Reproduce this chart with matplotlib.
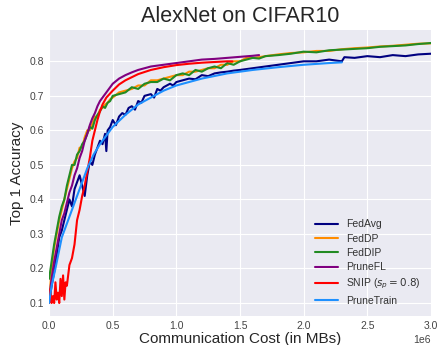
import numpy as np
import matplotlib
matplotlib.use("Agg")
import matplotlib.pyplot as plt

# communication cost in millions of MBs, top-1 accuracy
fedavg_x = [0.00, 0.02, 0.04, 0.06, 0.08, 0.10, 0.12, 0.14, 0.16, 0.18, 0.20, 0.22, 0.24, 0.26,
            0.28, 0.30, 0.32, 0.34, 0.36, 0.38, 0.40, 0.42, 0.44, 0.45, 0.46, 0.48, 0.50, 0.525,
            0.55, 0.575, 0.60, 0.625, 0.65, 0.675, 0.70, 0.725, 0.75, 0.80, 0.825, 0.85, 0.875, 0.90,
            0.95, 0.975, 1.00, 1.05, 1.10, 1.15, 1.20, 1.25, 1.30, 1.35, 1.40, 1.45, 1.50,
            1.60, 1.70, 1.80, 1.90, 2.00, 2.10, 2.20, 2.30, 2.32, 2.40, 2.50, 2.60, 2.70, 2.80,
            2.90, 3.00]
fedavg_y = [0.10, 0.15, 0.19, 0.24, 0.29, 0.31, 0.34, 0.37, 0.40, 0.38, 0.43, 0.45, 0.47, 0.44,
            0.41, 0.47, 0.51, 0.50, 0.53, 0.55, 0.57, 0.56, 0.59, 0.54, 0.60, 0.61, 0.63, 0.615,
            0.64, 0.65, 0.645, 0.665, 0.67, 0.66, 0.685, 0.68, 0.70, 0.705, 0.695, 0.72, 0.715, 0.725,
            0.735, 0.73, 0.74, 0.745, 0.75, 0.748, 0.76, 0.757, 0.765, 0.768, 0.77, 0.773, 0.775,
            0.78, 0.785, 0.79, 0.795, 0.80, 0.80, 0.805, 0.80, 0.812, 0.81, 0.815, 0.812, 0.818, 0.815,
            0.82, 0.822]

feddp_x = [0.00, 0.02, 0.04, 0.06, 0.08, 0.10, 0.12, 0.14, 0.16, 0.18, 0.20, 0.22, 0.24, 0.26,
           0.28, 0.30, 0.32, 0.34, 0.36, 0.38, 0.40, 0.42, 0.44, 0.46, 0.48, 0.50, 0.55, 0.60,
           0.65, 0.70, 0.75, 0.80, 0.85, 0.90, 0.95, 1.00, 1.05, 1.10, 1.15, 1.20, 1.25, 1.30,
           1.35, 1.40, 1.45, 1.50, 1.55, 1.60, 1.65, 1.70, 1.80, 1.90, 2.00, 2.10, 2.20, 2.30,
           2.40, 2.50, 2.60, 2.70, 2.80, 2.90, 3.00]
feddp_y = [0.10, 0.20, 0.26, 0.30, 0.34, 0.37, 0.40, 0.43, 0.46, 0.49, 0.51, 0.52, 0.55, 0.55,
           0.58, 0.60, 0.60, 0.62, 0.64, 0.64, 0.66, 0.665, 0.675, 0.68, 0.69, 0.695, 0.71, 0.715,
           0.72, 0.73, 0.73, 0.745, 0.745, 0.75, 0.755, 0.76, 0.76, 0.77, 0.77, 0.775, 0.78, 0.78,
           0.79, 0.79, 0.80, 0.80, 0.81, 0.81, 0.812, 0.815, 0.82, 0.824, 0.826, 0.83, 0.83, 0.835,
           0.838, 0.84, 0.843, 0.845, 0.848, 0.851, 0.852]

feddip_x = feddp_x
feddip_y = [0.17, 0.22, 0.27, 0.31, 0.35, 0.38, 0.40, 0.44, 0.47, 0.50, 0.50, 0.53, 0.54, 0.56,
            0.57, 0.59, 0.61, 0.605, 0.63, 0.645, 0.655, 0.67, 0.665, 0.68, 0.685, 0.70, 0.705, 0.71,
            0.725, 0.72, 0.735, 0.74, 0.74, 0.75, 0.745, 0.76, 0.765, 0.76, 0.775, 0.77, 0.78, 0.785,
            0.78, 0.795, 0.79, 0.80, 0.805, 0.81, 0.808, 0.815, 0.818, 0.822, 0.828, 0.826, 0.832, 0.834,
            0.836, 0.838, 0.842, 0.844, 0.846, 0.85, 0.853]

prunefl_x = [0.00, 0.02, 0.04, 0.06, 0.08, 0.10, 0.12, 0.14, 0.16, 0.18, 0.20, 0.22, 0.24, 0.26,
             0.28, 0.30, 0.32, 0.34, 0.36, 0.38, 0.40, 0.45, 0.50, 0.55, 0.60, 0.65, 0.70, 0.80,
             0.90, 1.00, 1.10, 1.20, 1.30, 1.40, 1.50, 1.60, 1.65]
prunefl_y = [0.11, 0.17, 0.22, 0.26, 0.30, 0.34, 0.36, 0.39, 0.42, 0.44, 0.47, 0.49, 0.52, 0.54,
             0.57, 0.59, 0.615, 0.635, 0.65, 0.67, 0.685, 0.71, 0.735, 0.75, 0.76, 0.768, 0.775, 0.785,
             0.79, 0.795, 0.80, 0.805, 0.807, 0.81, 0.813, 0.816, 0.818]

snip_x = [0.00, 0.01, 0.02, 0.03, 0.04, 0.05, 0.06, 0.07, 0.08, 0.09, 0.10, 0.11, 0.12, 0.13,
          0.14, 0.15, 0.16, 0.18, 0.20, 0.22, 0.24, 0.26, 0.28, 0.30, 0.32, 0.34, 0.36, 0.38,
          0.40, 0.42, 0.45, 0.50, 0.55, 0.60, 0.70, 0.80, 0.90, 1.00, 1.10, 1.20, 1.30, 1.40, 1.44]
snip_y = [0.10, 0.14, 0.10, 0.12, 0.10, 0.16, 0.11, 0.13, 0.10, 0.17, 0.12, 0.18, 0.11, 0.16,
          0.15, 0.18, 0.21, 0.23, 0.27, 0.34, 0.37, 0.41, 0.44, 0.48, 0.52, 0.57, 0.60, 0.63,
          0.655, 0.675, 0.695, 0.715, 0.733, 0.745, 0.763, 0.775, 0.783, 0.789, 0.793, 0.796, 0.798, 0.80, 0.80]

prunetrain_x = [0.00, 0.02, 0.05, 0.10, 0.15, 0.20, 0.25, 0.30, 0.35, 0.40, 0.45, 0.50, 0.60, 0.70,
                0.80, 0.90, 1.00, 1.20, 1.40, 1.60, 1.80, 2.00, 2.20, 2.30]
prunetrain_y = [0.10, 0.15, 0.20, 0.29, 0.34, 0.39, 0.44, 0.49, 0.53, 0.56, 0.585, 0.61, 0.645, 0.675,
                0.695, 0.715, 0.73, 0.75, 0.765, 0.775, 0.783, 0.79, 0.795, 0.797]

series = [
    ("FedAvg", fedavg_x, fedavg_y, "navy"),
    ("FedDP", feddp_x, feddp_y, "darkorange"),
    ("FedDIP", feddip_x, feddip_y, "forestgreen"),
    ("PruneFL", prunefl_x, prunefl_y, "purple"),
    (r"SNIP ($s_p = 0.8$)", snip_x, snip_y, "red"),
    ("PruneTrain", prunetrain_x, prunetrain_y, "dodgerblue"),
]

plt.style.use("seaborn-v0_8-darkgrid")
plt.rcParams["font.family"] = ["Liberation Sans", "DejaVu Sans"]

fig, ax = plt.subplots(figsize=(4.42, 3.45), dpi=100)
fig.subplots_adjust(left=0.111, right=0.975, top=0.913, bottom=0.084)

for label, xs, ys, color in series:
    ax.plot(np.array(xs) * 1e6, ys, color=color, lw=1.5, label=label)

ax.set_xlim(0, 3.0e6)
ax.set_title("AlexNet on CIFAR10", fontsize=15.5)
ax.set_xlabel("Communication Cost (in MBs)", fontsize=11, labelpad=1)
ax.set_ylabel("Top 1 Accuracy", fontsize=11)
ax.tick_params(labelsize=7.5, labelcolor="#444444")
ax.xaxis.get_offset_text().set_fontsize(7.5)
ax.xaxis.get_offset_text().set_color("#444444")
leg = ax.legend(loc="lower right", fontsize=7.5, frameon=False, handlelength=2.2,
                labelspacing=0.42, borderaxespad=0.6)
for t in leg.get_texts():
    t.set_color("#333333")

plt.savefig("out.png", dpi=100)
